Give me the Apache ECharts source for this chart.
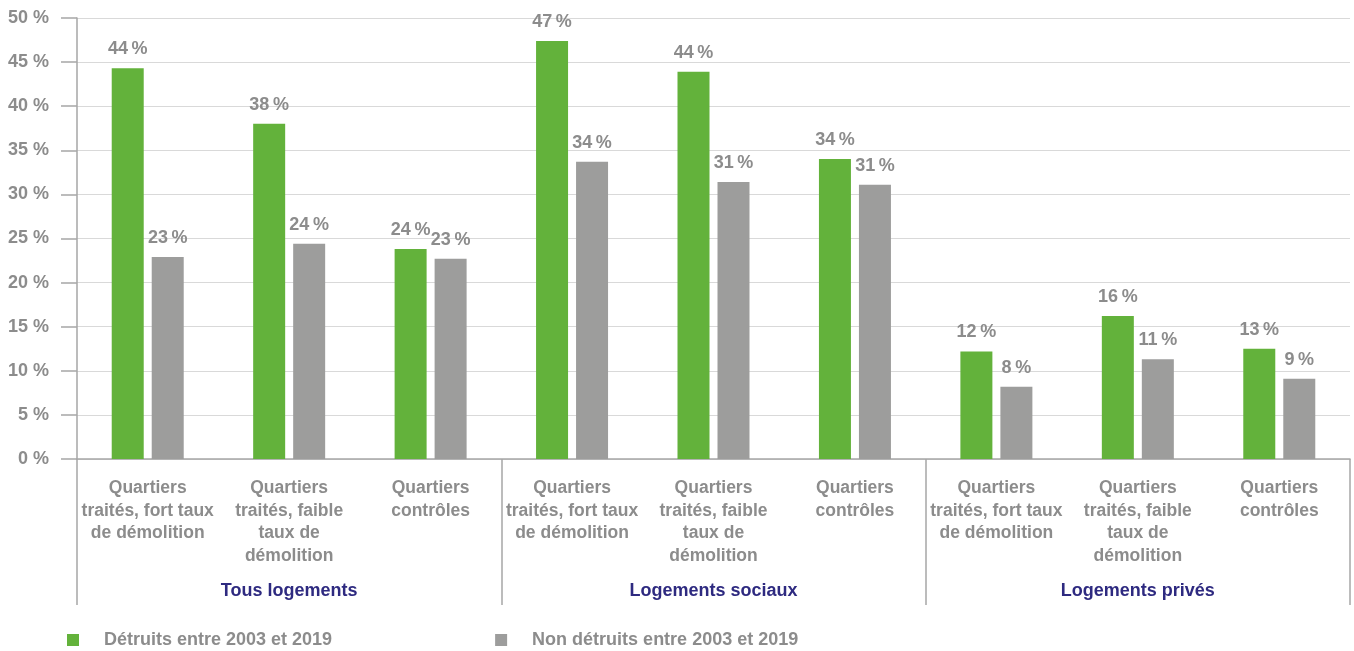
<!DOCTYPE html>
<html><head><meta charset="utf-8">
<script src="https://cdn.jsdelivr.net/npm/echarts@6/dist/echarts.min.js"></script>
<style>html,body{margin:0;padding:0;background:#fff}#c{width:1354px;height:651px}</style>
</head><body><div id="c"></div>
<script>
const categories = [
  "Quartiers\ntraités, fort taux\nde démolition",
  "Quartiers\ntraités, faible\ntaux de\ndémolition",
  "Quartiers\ncontrôles",
  "Quartiers\ntraités, fort taux\nde démolition",
  "Quartiers\ntraités, faible\ntaux de\ndémolition",
  "Quartiers\ncontrôles",
  "Quartiers\ntraités, fort taux\nde démolition",
  "Quartiers\ntraités, faible\ntaux de\ndémolition",
  "Quartiers\ncontrôles"
];
const groups = ["Tous logements", "Logements sociaux", "Logements privés"];
const seriesNames = ["Détruits entre 2003 et 2019", "Non détruits entre 2003 et 2019"];
const detruits = [44.3, 38.0, 23.8, 47.4, 43.9, 34.0, 12.2, 16.2, 12.5];
const nonDetruits = [22.9, 24.4, 22.7, 33.7, 31.4, 31.1, 8.2, 11.3, 9.1];
const yTicks = { min: 0, max: 50, interval: 5 };

const font = '"Liberation Sans", Arial, sans-serif';
const grayText = '#8c8c8c';
const chart = echarts.init(document.getElementById('c'), null, { renderer: 'canvas' });
const labelCfg = {
  show: true, position: 'top', distance: 10,
  formatter: p => Math.round(p.value) + '\u2009%',
  color: grayText, fontFamily: font, fontWeight: 'bold', fontSize: 18
};
chart.setOption({
  animation: false,
  grid: { left: 77, right: 4, top: 18, bottom: 192 },
  legend: {
    left: 62, top: 626, icon: 'rect', itemWidth: 12, itemHeight: 12, itemGap: 163,
    textStyle: { color: grayText, fontFamily: font, fontWeight: 'bold', fontSize: 18, padding: [0, 0, 0, 20] },
    data: seriesNames
  },
  xAxis: [
    {
      type: 'category', data: categories, position: 'bottom',
      axisLine: { lineStyle: { color: '#a6a6a6', width: 1.5 } },
      axisTick: { show: false },
      axisLabel: { interval: 0, margin: 18, color: grayText, fontFamily: font, fontWeight: 'bold', fontSize: 17.5, lineHeight: 22.5, verticalAlign: 'top' }
    },
    {
      type: 'category', data: groups, position: 'bottom',
      axisLine: { show: false },
      axisTick: { show: true, length: 146, lineStyle: { color: '#a6a6a6', width: 1.5 } },
      axisLabel: { interval: 0, margin: 123, color: '#2e2a80', fontFamily: font, fontWeight: 'bold', fontSize: 18 }
    }
  ],
  yAxis: {
    type: 'value', min: yTicks.min, max: yTicks.max, interval: yTicks.interval,
    axisLine: { show: true, lineStyle: { color: '#a6a6a6', width: 1.5 } },
    axisTick: { show: true, length: 16, lineStyle: { color: '#a6a6a6', width: 1.5 } },
    axisLabel: { margin: 28, formatter: '{value} %', color: grayText, fontFamily: font, fontWeight: 'bold', fontSize: 18 },
    splitLine: { lineStyle: { color: '#d9d9d9', width: 1.2 } }
  },
  series: [
    { name: seriesNames[0], type: 'bar', data: detruits, barWidth: 32, barGap: '25%', itemStyle: { color: '#63b23b' }, label: labelCfg },
    { name: seriesNames[1], type: 'bar', data: nonDetruits, barWidth: 32, barGap: '25%', itemStyle: { color: '#9d9d9c' }, label: labelCfg }
  ]
});
</script></body></html>
